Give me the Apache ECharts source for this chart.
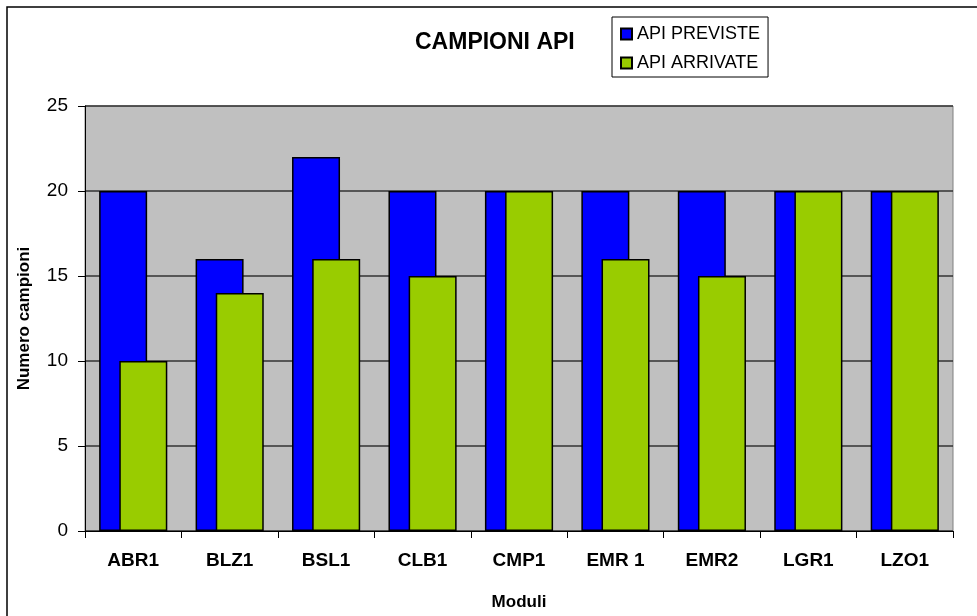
<!DOCTYPE html>
<html>
<head>
<meta charset="utf-8">
<script src="https://cdn.jsdelivr.net/npm/echarts@6/dist/echarts.min.js"></script>
<style>
  html, body { margin: 0; padding: 0; background: #fff; }
  #main { width: 977px; height: 616px; }
</style>
</head>
<body>
<div id="main"></div>
<script>
// dati
var moduli = ["ABR1", "BLZ1", "BSL1", "CLB1", "CMP1", "EMR 1", "EMR2", "LGR1", "LZO1"];
var apiPreviste = [20, 16, 22, 20, 20, 20, 20, 20, 20];
var apiArrivate = [10, 14, 16, 15, 20, 16, 15, 20, 20];
var yTicks = [0, 5, 10, 15, 20, 25];

var font = "Liberation Sans, Arial, sans-serif";
var myChart = echarts.init(document.getElementById("main"));

myChart.setOption({
  animation: false,
  backgroundColor: "#fff",
  textStyle: { fontFamily: font },
  graphic: [
    {
      type: "rect",
      shape: { x: 7, y: 7, width: 1000, height: 700 },
      style: { fill: "none", stroke: "#000", lineWidth: 1.5 },
      silent: true
    }
  ],
  title: {
    text: "CAMPIONI API",
    left: 415,
    top: 31,
    padding: 0,
    textStyle: { fontFamily: font, fontSize: 23, fontWeight: "bold", color: "#000" }
  },
  legend: {
    orient: "vertical",
    left: 612,
    top: 17,
    padding: [8, 8, 5, 8],
    itemGap: 11,
    itemWidth: 11,
    itemHeight: 11,
    icon: "rect",
    borderColor: "#000",
    borderWidth: 1,
    backgroundColor: "#fff",
    textStyle: { fontFamily: font, fontSize: 18, color: "#000", lineHeight: 18 },
    data: ["API PREVISTE", "API ARRIVATE"]
  },
  grid: {
    left: 85,
    top: 106,
    width: 868,
    height: 431,
    show: true,
    backgroundColor: "#C0C0C0",
    borderColor: "#808080",
    borderWidth: 1
  },
  xAxis: {
    type: "category",
    data: moduli,
    name: "Moduli",
    nameLocation: "middle",
    nameGap: 63,
    nameTextStyle: { fontFamily: font, fontSize: 17, fontWeight: "bold", color: "#000" },
    axisLine: { lineStyle: { color: "#000", width: 1 } },
    axisTick: { show: true, length: 7, lineStyle: { color: "#000" } },
    axisLabel: { fontFamily: font, fontSize: 19, fontWeight: "bold", color: "#000", margin: 20 }
  },
  yAxis: {
    type: "value",
    min: yTicks[0],
    max: yTicks[yTicks.length - 1],
    interval: 5,
    name: "Numero campioni",
    nameLocation: "middle",
    nameGap: 52,
    nameTextStyle: { fontFamily: font, fontSize: 17, fontWeight: "bold", color: "#000" },
    axisLine: { show: true, lineStyle: { color: "#000", width: 1 } },
    axisTick: { show: true, length: 7, lineStyle: { color: "#000" } },
    axisLabel: { fontFamily: font, fontSize: 19, color: "#000", margin: 17 },
    splitLine: { show: true, lineStyle: { color: "#333", width: 1.5 } }
  },
  series: [
    {
      name: "API PREVISTE",
      type: "bar",
      data: apiPreviste,
      barWidth: 48,
      barGap: "-58%",
      itemStyle: { color: "#0000FF", borderColor: "#000", borderWidth: 1.5 }
    },
    {
      name: "API ARRIVATE",
      type: "bar",
      data: apiArrivate,
      barWidth: 48,
      barGap: "-58%",
      itemStyle: { color: "#99CC00", borderColor: "#000", borderWidth: 1.5 }
    }
  ]
});
</script>
</body>
</html>
